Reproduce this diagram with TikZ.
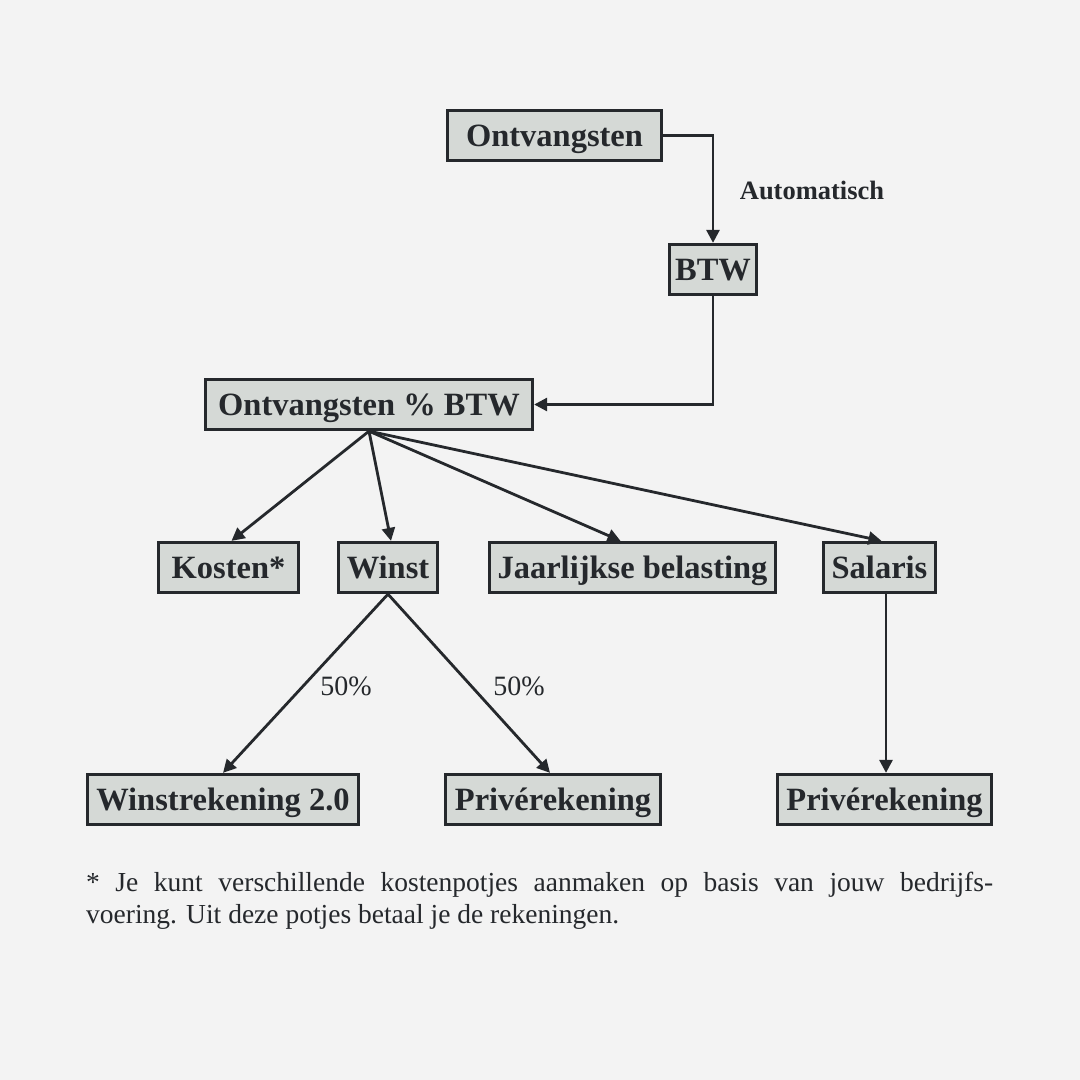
\documentclass[tikz,border=0pt]{standalone}
\usepackage{fontspec}
\setmainfont{Liberation Serif}
\usetikzlibrary{arrows.meta}
\definecolor{bg}{HTML}{F3F3F3}
\definecolor{boxfill}{HTML}{D5D9D6}
\definecolor{ink}{HTML}{25282C}
\begin{document}
\begin{tikzpicture}[x=1pt,y=-1pt,
  box/.style={draw=ink,fill=boxfill,line width=3.3pt,inner sep=0pt,text=ink,
    minimum height=50pt,text height=22pt,text depth=0pt,
    font=\fontsize{32.5}{36}\selectfont\bfseries},
  conn/.style={draw=ink,line width=2.8pt,-{Triangle[length=13pt,width=13pt]}},
  lbl/.style={text=ink,inner sep=0pt,font=\fontsize{28}{32}\selectfont},
  note/.style={text=ink,inner sep=0pt,font=\fontsize{27.5}{32}\selectfont}]
\fill[bg] (0,0) rectangle (1080,1080);
\useasboundingbox (0,0) rectangle (1080,1080);

\node[box,minimum width=214pt] (ont) at (554.5,135.5) {Ontvangsten};
\node[box,minimum width=87pt] (btw) at (713,269.5) {BTW};
\node[box,minimum width=327pt] (ovb) at (369,404.5) {Ontvangsten \% BTW};
\node[box,minimum width=140pt] (kos) at (228.5,567.5) {Kosten*};
\node[box,minimum width=99pt] (win) at (388,567.5) {Winst};
\node[box,minimum width=286pt] (jaar) at (632.5,567.5) {Jaarlijkse belasting};
\node[box,minimum width=112pt] (sal) at (879.5,567.5) {Salaris};
\node[box,minimum width=271pt] (wr) at (223,799.5) {Winstrekening 2.0};
\node[box,minimum width=215pt] (pr1) at (553,799.5) {Privérekening};
\node[box,minimum width=214pt] (pr2) at (884.5,799.5) {Privérekening};

\draw[conn] (ont.east) -| (btw.north);
\draw[conn] (btw.south) |- (ovb.east);
\draw[conn] (ovb.south) -- ([xshift=3pt]kos.north);
\draw[conn] (ovb.south) -- ([xshift=3pt]win.north);
\draw[conn] (ovb.south) -- ([xshift=-12pt]jaar.north);
\draw[conn] (ovb.south) -- ([xshift=2pt]sal.north);
\draw[conn] (win.south) -- (wr.north);
\draw[conn] (win.south) -- ([xshift=-3pt]pr1.north);
\draw[conn] ([xshift=1.5pt]pr2.north |- sal.south) -- ([xshift=1.5pt]pr2.north);

\node[lbl,font=\fontsize{26.5}{30}\selectfont\bfseries] (auto) at (812,190) {Automatisch};
\node[lbl] (p1) at (346,686) {50\%};
\node[lbl] (p2) at (519,686) {50\%};

\node[note,anchor=base west] (n1) at (86,891) {\makebox[907pt][s]{* Je kunt verschillende kostenpotjes aanmaken op basis van jouw bedrijfs-}};
\node[note,anchor=base west] (n2) at (86,923) {voering. Uit deze potjes betaal je de rekeningen.};
\end{tikzpicture}
\end{document}
